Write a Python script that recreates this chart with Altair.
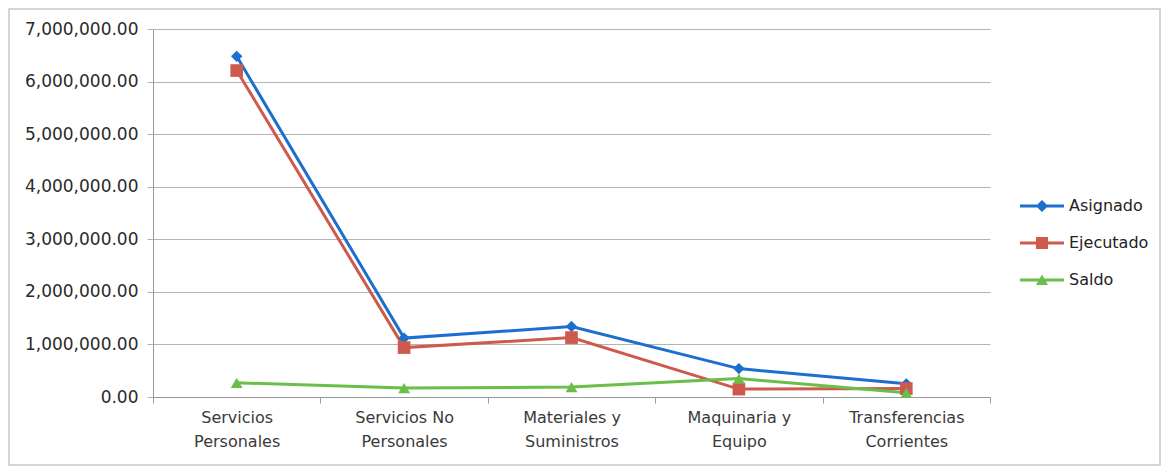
import json
import altair as alt
import pandas as pd

categories = ["Servicios Personales", "Servicios No Personales", "Materiales y Suministros",
              "Maquinaria y Equipo", "Transferencias Corrientes"]
label_lines = [["Servicios", "Personales"], ["Servicios No", "Personales"], ["Materiales y", "Suministros"],
               ["Maquinaria y", "Equipo"], ["Transferencias", "Corrientes"]]
series = ["Asignado", "Ejecutado", "Saldo"]
asignado = [6480000, 1120000, 1340000, 540000, 250000]
ejecutado = [6210000, 940000, 1130000, 150000, 160000]
saldo = [270000, 170000, 190000, 350000, 80000]
colors = ["#1c6fcf", "#cd5a4c", "#6abf4a"]
markers = ["diamond", "square", "triangle-up"]
marker_sizes = [130, 160, 140]
y_ticks = [0, 1000000, 2000000, 3000000, 4000000, 5000000, 6000000, 7000000]

values = {"Asignado": asignado, "Ejecutado": ejecutado, "Saldo": saldo}
rows = []
for s in series:
    for c, v in zip(categories, values[s]):
        rows.append({"Categoria": c, "Serie": s, "Valor": v})
df = pd.DataFrame(rows)

label_map = {c: l for c, l in zip(categories, label_lines)}
label_expr = json.dumps(label_map) + "[datum.label]"

line_seg = "M-3,-0.14H1V0.14H-3Z "
legend_paths = [
    line_seg + "M-1,-0.55L-0.45,0L-1,0.55L-1.55,0Z",
    line_seg + "M-1.55,-0.55H-0.45V0.55H-1.55Z",
    line_seg + "M-1,-0.5L-0.45,0.45H-1.55Z",
]

font = "DejaVu Sans"

x_axis = alt.Axis(title=None, labelExpr=label_expr, tickBand="extent", labelAngle=0,
                  domainColor="#9a9a9a", tickColor="#9a9a9a", tickSize=6,
                  labelPadding=6, labelFontSize=16, labelFont=font, labelColor="#3a3a3a",
                  labelLineHeight=24, grid=False, labelBaseline="top")
y_axis = alt.Axis(title=None, values=y_ticks, format=",.2f", grid=True,
                  gridColor="#b4b4b4", domainColor="#9a9a9a", tickColor="#b4b4b4",
                  tickSize=6, labelPadding=9, labelFontSize=17, labelFont=font,
                  labelColor="#2a2a2a")
x_scale = alt.Scale(type="band", paddingInner=0, paddingOuter=0)
y_scale = alt.Scale(domain=[0, 7000000])

base = alt.Chart(df)

layers = []
frame = alt.Chart(pd.DataFrame({"k": [0]})).mark_rect(
    fill="transparent", stroke="#c8c8c8", strokeWidth=1.5
).encode(x=alt.value(-144), x2=alt.value(1007), y=alt.value(-20), y2=alt.value(436))
layers.append(frame)

for s, col in zip(series, colors):
    layers.append(
        base.transform_filter(alt.datum.Serie == s).mark_line(strokeWidth=3, color=col).encode(
            x=alt.X("Categoria:N", sort=categories, bandPosition=0.5, scale=x_scale, axis=x_axis),
            y=alt.Y("Valor:Q", scale=y_scale, axis=y_axis),
        )
    )
for s, col, m, sz in zip(series, colors, markers, marker_sizes):
    layers.append(
        base.transform_filter(alt.datum.Serie == s).mark_point(
            filled=True, opacity=1, color=col, shape=m, size=sz
        ).encode(
            x=alt.X("Categoria:N", sort=categories, bandPosition=0.5),
            y="Valor:Q",
        )
    )

legend_layer = base.mark_point(filled=True, opacity=1, size=0).encode(
    x=alt.X("Categoria:N", sort=categories, bandPosition=0.5),
    y="Valor:Q",
    color=alt.Color("Serie:N", sort=series, scale=alt.Scale(domain=series, range=colors),
                    legend=alt.Legend(title=None, orient="none", legendX=889, legendY=166,
                                      symbolSize=484, symbolOpacity=1, symbolStrokeWidth=0,
                                      rowPadding=18, labelFontSize=16, labelFont=font,
                                      labelColor="#222222", labelOffset=5)),
    shape=alt.Shape("Serie:N", sort=series, scale=alt.Scale(domain=series, range=legend_paths)),
)
layers.append(legend_layer)

chart = alt.layer(*layers).properties(
    width=837, height=368,
    autosize=alt.AutoSizeParams(type="none"),
    padding={"left": 145, "top": 21, "right": 171, "bottom": 69},
    background="white",
).configure_view(stroke=None)

chart.save("out.html", embed_options={"renderer": "svg", "actions": False})
